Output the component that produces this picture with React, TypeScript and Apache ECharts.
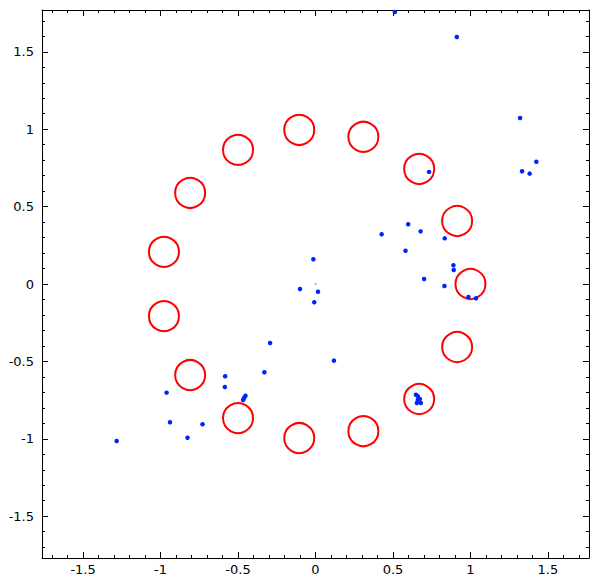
import React, { useEffect, useRef } from "react";
import * as echarts from "echarts";

// Red hollow circles (unit-circle points)
const circleX = [1.0, 0.914, 0.669, 0.309, -0.105, -0.5, -0.809, -0.978, -0.978, -0.809, -0.5, -0.105, 0.309, 0.669, 0.914];
const circleY = [0.0, 0.407, 0.743, 0.951, 0.995, 0.866, 0.588, 0.208, -0.208, -0.588, -0.866, -0.995, -0.951, -0.743, -0.407];

// Blue points
const dotX = [
  0.512, 0.912, 1.32, 1.425, 1.333, 1.382, 0.733,
  0.598, 0.427, 0.678, 0.834, 0.581, 0.89, 0.892, 0.701, 0.832, 0.987, 1.036,
  -0.014, -0.1, 0.016, -0.008, -0.293, 0.119,
  -0.583, -0.585, -0.961, -0.939, -0.729, -0.826, -1.283, -0.33,
  -0.452, -0.461, -0.467,
  0.648, 0.66, 0.673, 0.66, 0.68, 0.654,
];
const dotY = [
  1.757, 1.596, 1.072, 0.79, 0.728, 0.713, 0.724,
  0.386, 0.321, 0.34, 0.295, 0.215, 0.121, 0.09, 0.032, -0.013, -0.084, -0.092,
  0.16, -0.032, -0.05, -0.118, -0.381, -0.495,
  -0.596, -0.665, -0.702, -0.893, -0.906, -0.993, -1.014, -0.57,
  -0.722, -0.736, -0.749,
  -0.715, -0.724, -0.743, -0.749, -0.769, -0.769,
];

// tiny grey mark near the origin
const tinyX = [0.0];
const tinyY = [0.0];

const X_MIN = -1.765;
const X_MAX = 1.765;
const Y_MIN = -1.77;
const Y_MAX = 1.77;

const FONT = "DejaVu Sans";

const fmt = (v: number) => {
  const r = Math.round(v * 2) / 2;
  if (Math.abs(r - v) > 1e-6) return "";
  return String(r);
};

export default function App() {
  const ref = useRef<HTMLDivElement>(null);
  useEffect(() => {
    if (!ref.current) return;
    const chart = echarts.init(ref.current, undefined, { renderer: "svg" });
    const axisCommon = (labels: boolean) => ({
      type: "value" as const,
      splitNumber: 7,
      axisLine: { show: true, onZero: false, lineStyle: { color: "#000", width: 1 } },
      axisTick: { show: true, inside: true, length: 6, lineStyle: { color: "#000", width: 1 } },
      minorTick: { show: true, splitNumber: 5, length: 3, lineStyle: { color: "#000", width: 1 } },
      splitLine: { show: false },
      axisLabel: {
        show: labels,
        showMinLabel: false,
        showMaxLabel: false,
        color: "#000",
        fontFamily: FONT,
        fontSize: 13,
        formatter: fmt,
      },
    });
    const xb = axisCommon(true);
    const xt = axisCommon(false);
    const yl = axisCommon(true);
    const yr = axisCommon(false);
    chart.setOption({
      animation: false,
      backgroundColor: "#fff",
      grid: { left: 42, right: 10, top: 10, bottom: 26, containLabel: false },
      xAxis: [
        { ...xb, position: "bottom", min: X_MIN, max: X_MAX, axisLabel: { ...xb.axisLabel, margin: 5 } },
        { ...xt, position: "top", min: X_MIN, max: X_MAX },
      ],
      yAxis: [
        { ...yl, position: "left", min: Y_MIN, max: Y_MAX, axisLabel: { ...yl.axisLabel, margin: 8 } },
        { ...yr, position: "right", min: Y_MIN, max: Y_MAX },
      ],
      series: [
        {
          type: "scatter",
          xAxisIndex: 0,
          yAxisIndex: 0,
          symbol: "circle",
          symbolSize: 30,
          data: circleX.map((x, i) => [x, circleY[i]]),
          itemStyle: { color: "rgba(0,0,0,0)", borderColor: "#ff0000", borderWidth: 2, opacity: 1 },
          z: 2,
        },
        {
          type: "scatter",
          xAxisIndex: 0,
          yAxisIndex: 0,
          symbol: "circle",
          symbolSize: 4.5,
          data: dotX.map((x, i) => [x, dotY[i]]),
          itemStyle: { color: "#0022ff", opacity: 1 },
          z: 3,
        },
        {
          type: "scatter",
          xAxisIndex: 0,
          yAxisIndex: 0,
          symbol: "rect",
          symbolSize: 1.5,
          data: tinyX.map((x, i) => [x, tinyY[i]]),
          itemStyle: { color: "#888", opacity: 1 },
          z: 3,
        },
      ],
    });
    return () => chart.dispose();
  }, []);
  return (
    <div
      ref={ref}
      style={{ position: "fixed", left: 0, top: 0, width: 599, height: 584, background: "#fff" }}
    />
  );
}
